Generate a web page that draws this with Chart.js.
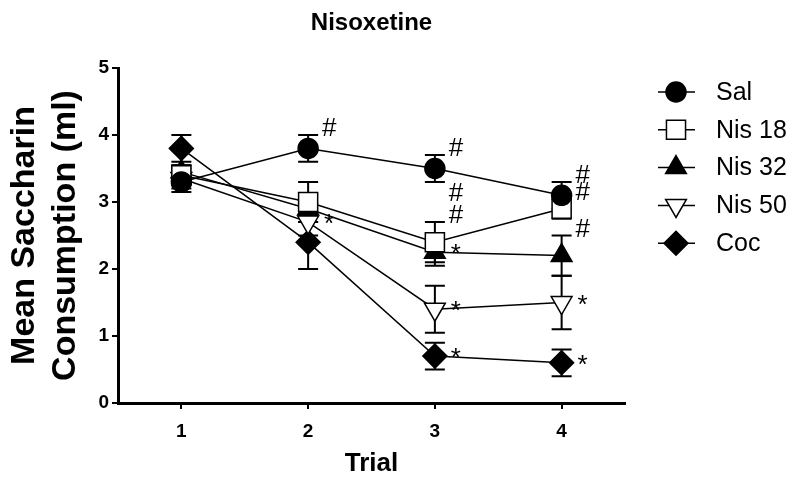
<!DOCTYPE html>
<html>
<head>
<meta charset="utf-8">
<script src="https://cdn.jsdelivr.net/npm/chart.js@4.4.1/dist/chart.umd.min.js"></script>
<style>
  html, body { margin: 0; padding: 0; background: #fff; }
  #wrap { width: 800px; height: 481px; }
</style>
</head>
<body>
<div id="wrap"><canvas id="nisox"></canvas></div>
<script>
// trials on the x axis
const trials = [1, 2, 3, 4];

// mean saccharin consumption (ml) per group, and the error bar (SEM) sizes
const salMean   = [3.3, 3.8, 3.5, 3.1];
const salErr    = [0.15, 0.2, 0.2, 0.2];
const nis18Mean = [3.4, 3.0, 2.4, 2.9];
const nis18Err  = [0.15, 0.3, 0.3, 0.15];
const nis32Mean = [3.45, 2.9, 2.25, 2.2];
const nis32Err  = [0.1, 0.2, 0.2, 0.3];
const nis50Mean = [3.35, 2.7, 1.4, 1.5];
const nis50Err  = [0.15, 0.2, 0.35, 0.4];
const cocMean   = [3.8, 2.4, 0.7, 0.6];
const cocErr    = [0.2, 0.4, 0.2, 0.2];

// significance marks next to each point
const salMarks   = ['', '#', '#', '#'];
const nis18Marks = ['', '', '##', '#'];
const nis32Marks = ['', '', '*', '#'];
const nis50Marks = ['', '*', '*', '*'];
const cocMarks   = ['', '', '*', '*'];

const yTicks = [0, 1, 2, 3, 4, 5];
const xTicks = [1, 2, 3, 4];

const FONT = "'Liberation Sans', Arial, sans-serif";

function series(label, means, errs, marks, style, fill, rotation, radius) {
  return {
    label: label,
    data: trials.map((t, i) => ({ x: t, y: means[i] })),
    errs: errs,
    marks: marks,
    borderColor: '#000',
    borderWidth: 1.5,
    pointStyle: style,
    pointRotation: rotation,
    pointRadius: radius,
    pointHoverRadius: radius,
    pointBackgroundColor: fill,
    pointBorderColor: '#000',
    pointBorderWidth: 1.5,
    fill: false,
    tension: 0
  };
}

//error bars, drawn under the markers
const errorBars = {
  id: 'errorBars',
  beforeDatasetsDraw(chart) {
    const ctx = chart.ctx;
    const y = chart.scales.y;
    ctx.save();
    ctx.strokeStyle = '#000';
    ctx.lineWidth = 2;
    chart.data.datasets.forEach((ds, di) => {
      chart.getDatasetMeta(di).data.forEach((pt, i) => {
        const v = ds.data[i].y, e = ds.errs[i];
        const top = y.getPixelForValue(v + e), bot = y.getPixelForValue(v - e);
        ctx.beginPath();
        ctx.moveTo(pt.x, top); ctx.lineTo(pt.x, bot);
        ctx.moveTo(pt.x - 10, top); ctx.lineTo(pt.x + 10, top);
        ctx.moveTo(pt.x - 10, bot); ctx.lineTo(pt.x + 10, bot);
        ctx.stroke();
      });
    });
    ctx.restore();
  }
};

// # and * marks, plus the title centred over the plot
const sigMarks = {
  id: 'sigMarks',
  afterDatasetsDraw(chart) {
    const ctx = chart.ctx;
    const y = chart.scales.y;
    const area = chart.chartArea;
    ctx.save();
    ctx.fillStyle = '#000';
    ctx.textAlign = 'center';
    ctx.textBaseline = 'middle';
    ctx.font = 'bold 24px ' + FONT;
    ctx.fillText('Nisoxetine', (area.left + area.right) / 2, 23);
    ctx.font = '26px ' + FONT;
    chart.data.datasets.forEach((ds, di) => {
      chart.getDatasetMeta(di).data.forEach((pt, i) => {
        const m = ds.marks[i];
        if (!m) return;
        const topCap = y.getPixelForValue(ds.data[i].y + ds.errs[i]);
        let yy = m[0] === '*' ? pt.y - 4 : Math.min(pt.y - 10, topCap - 6);
        for (let k = 0; k < m.length; k++) {
          const c = m[k];
          ctx.fillText(c, pt.x + 21, yy + (c === '*' ? 7 : 0));
          yy -= 22;
        }
      });
    });
    ctx.restore();
  }
};

// legend at right, marker with a line through it
const sideLegend = {
  id: 'sideLegend',
  afterDraw(chart) {
    const ctx = chart.ctx;
    ctx.save();
    chart.data.datasets.forEach((ds, i) => {
      const yy = 92 + i * 37.8;
      ctx.strokeStyle = '#000';
      ctx.lineWidth = 1.5;
      ctx.beginPath();
      ctx.moveTo(658, yy); ctx.lineTo(695, yy);
      ctx.stroke();
      ctx.fillStyle = ds.pointBackgroundColor;
      Chart.helpers.drawPoint(ctx, {
        pointStyle: ds.pointStyle,
        rotation: ds.pointRotation,
        radius: ds.pointRadius,
        borderWidth: 1.5
      }, 676, yy);
      ctx.fillStyle = '#000';
      ctx.font = '25px ' + FONT;
      ctx.textAlign = 'left';
      ctx.textBaseline = 'middle';
      ctx.fillText(ds.label, 716, yy + 1);
    });
    ctx.restore();
  }
};

new Chart(document.getElementById('nisox'), {
  type: 'line',
  data: {
    datasets: [
      series('Sal', salMean, salErr, salMarks, 'circle', '#000', 0, 10),
      series('Nis 18', nis18Mean, nis18Err, nis18Marks, 'rect', '#fff', 0, 13.5),
      series('Nis 32', nis32Mean, nis32Err, nis32Marks, 'triangle', '#000', 0, 12),
      series('Nis 50', nis50Mean, nis50Err, nis50Marks, 'triangle', '#fff', 180, 12),
      series('Coc', cocMean, cocErr, cocMarks, 'rectRot', '#000', 0, 12)
    ]
  },
  options: {
    responsive: true,
    maintainAspectRatio: false,
    animation: false,
    layout: { padding: { left: 4, right: 175, top: 68, bottom: 2 } },
    plugins: {
      legend: { display: false },
      tooltip: { enabled: false },
      title: { display: false }
    },
    scales: {
      x: {
        type: 'linear',
        min: 0.5,
        max: 4.5,
        afterBuildTicks: (s) => { s.ticks = xTicks.map(v => ({ value: v })); },
        afterFit: (s) => { s.height = 76; },
        ticks: {
          color: '#000',
          padding: 11,
          font: { family: FONT, size: 19, weight: 'bold' }
        },
        grid: { drawOnChartArea: false, drawTicks: true, tickLength: 6, color: '#000', lineWidth: 2 },
        border: { display: true, color: '#000', width: 3 },
        title: {
          display: true,
          text: 'Trial',
          color: '#000',
          font: { family: FONT, size: 26, weight: 'bold' },
          padding: { top: 6, bottom: 0 }
        }
      },
      y: {
        min: 0,
        max: 5,
        afterBuildTicks: (s) => { s.ticks = yTicks.map(v => ({ value: v })); },
        afterFit: (s) => { s.width = 114; },
        ticks: {
          color: '#000',
          padding: 3,
          font: { family: FONT, size: 19, weight: 'bold' }
        },
        grid: { drawOnChartArea: false, drawTicks: true, tickLength: 6, color: '#000', lineWidth: 2 },
        border: { display: true, color: '#000', width: 3 },
        title: {
          display: true,
          text: ['Mean Saccharin', 'Consumption (ml)'],
          color: '#000',
          font: { family: FONT, size: 34, weight: 'bold', lineHeight: 1.2 },
          padding: { top: 0, bottom: 0 }
        }
      }
    }
  },
  plugins: [errorBars, sigMarks, sideLegend]
});
</script>
</body>
</html>
